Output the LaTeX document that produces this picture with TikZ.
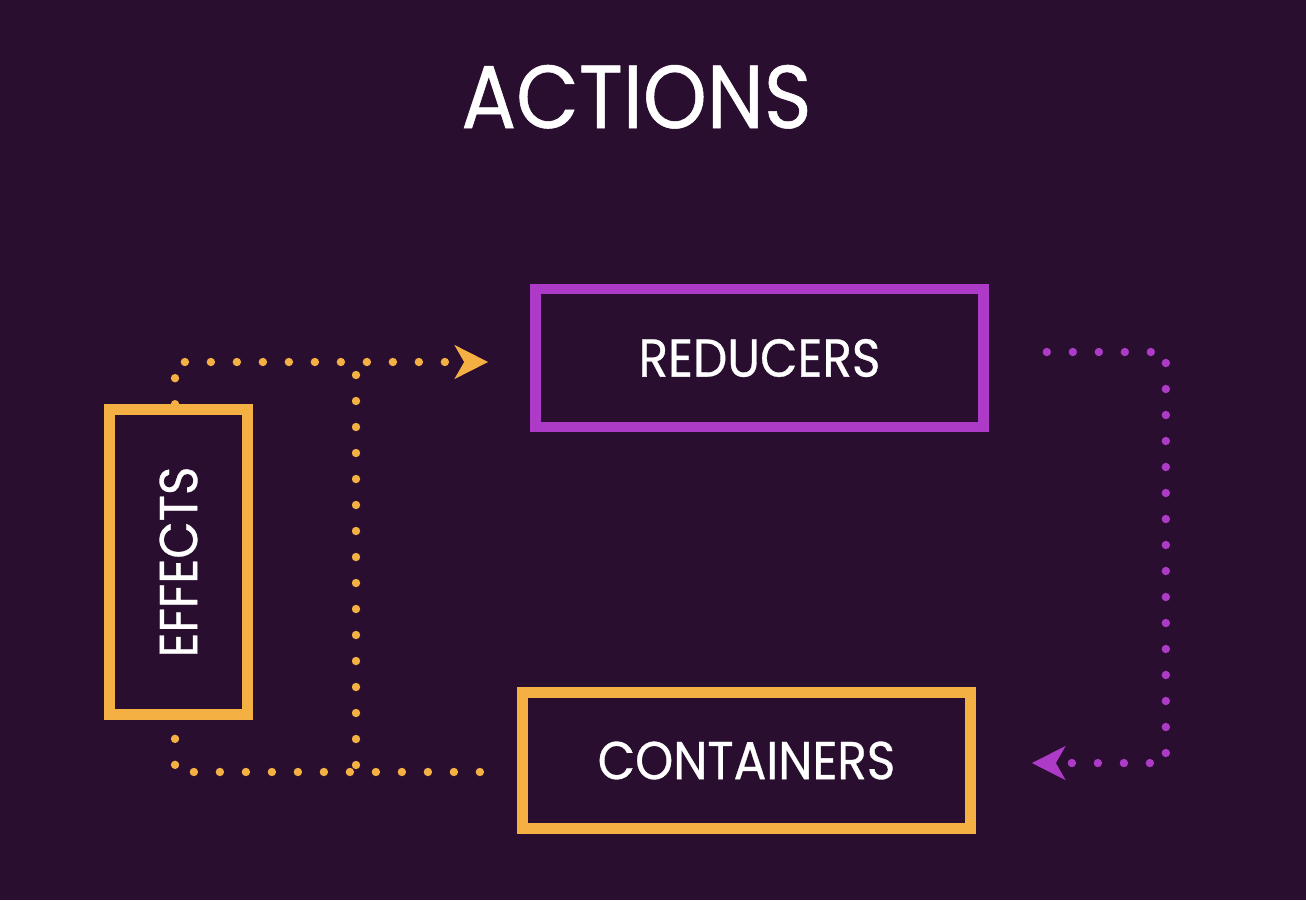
\documentclass[tikz,border=0pt]{standalone}
\usepackage{fontspec}
\setmainfont{Poppins}[FakeStretch=0.91, FakeBold=0.6]
\usetikzlibrary{arrows.meta}
\definecolor{bgpurple}{HTML}{2A0E2F}
\definecolor{fxorange}{HTML}{F4B043}
\definecolor{rdpurple}{HTML}{AE3BC8}
\tikzstyle{orangebox} = [rectangle, minimum width=336pt, minimum height=102pt, text centered, draw=fxorange, line width=8pt, text=white, font=\fontsize{40}{48}\selectfont]
\tikzstyle{purplebox} = [rectangle, minimum width=336pt, minimum height=103.5pt, text centered, draw=rdpurple, line width=8pt, text=white, font=\fontsize{40}{48}\selectfont]
\tikzstyle{title} = [text=white, anchor=base, font=\fontsize{67}{80}\selectfont]
\tikzstyle{dots} = [line width=6.3pt, line cap=round, dash pattern=on 0pt off 19.5pt]
\tikzstyle{orangedots} = [dots, draw=fxorange]
\tikzstyle{purpledots} = [dots, draw=rdpurple]
\tikzstyle{arrow} = [-{Stealth[length=25pt, width=25pt, inset=7pt]}]

\begin{document}
\begin{tikzpicture}[x=0.75pt, y=-0.75pt]

%% background and title
\fill [bgpurple] (0,0) rectangle (1306,900);
\node (actions) [title] at (636.5,128) {ACTIONS};

%% boxes
\node (reducers)   [purplebox] at (759.5,358)   {REDUCERS};
\node (containers) [orangebox] at (746.5,760.5) {CONTAINERS};
\node (effects)    [orangebox, rotate=90, minimum width=228.75pt, minimum height=103.5pt] at (178.5,562) {EFFECTS};

%% dotted connectors
\coordinate (upjoin)  at (356,373.5);
\coordinate (lowjoin) at (356,765);
\draw [orangedots, arrow] ([xshift=-2.6pt]effects.east) |- ([xshift=-31.5pt, yshift=-3pt]reducers.west);
\draw [orangedots] (lowjoin) -- (upjoin);
\draw [orangedots] ([xshift=-2.6pt, yshift=-14.25pt]effects.west) |- ([xshift=-27.75pt, yshift=-8.6pt]containers.west);
\draw [purpledots, arrow] ([xshift=43.5pt, yshift=4.5pt]reducers.east) -- ++(119,0) |- ([xshift=42pt, yshift=-1.9pt]containers.east);
\end{tikzpicture}
\end{document}
